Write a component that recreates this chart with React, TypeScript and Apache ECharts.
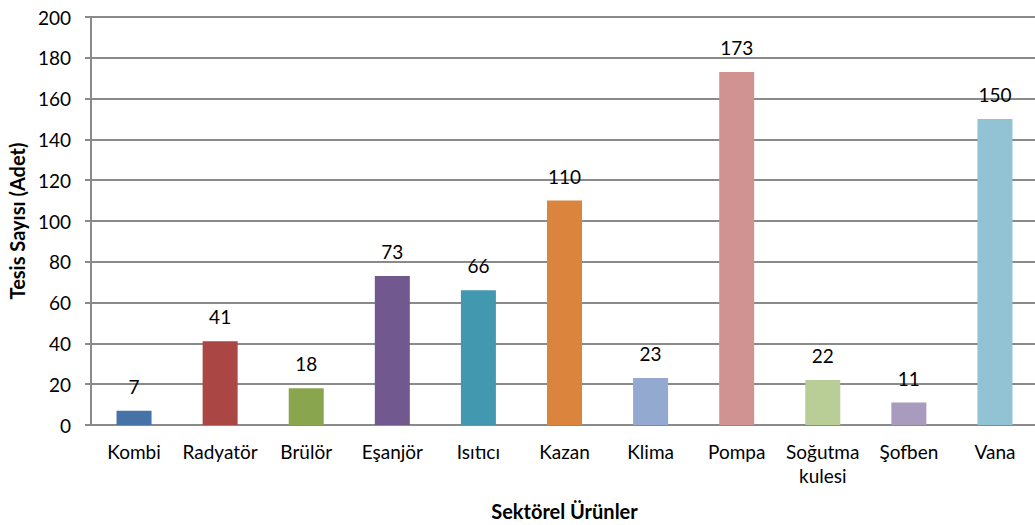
import React, { useEffect, useRef } from "react";
import * as echarts from "echarts";

const categories = ["Kombi", "Radyatör", "Brülör", "Eşanjör", "Isıtıcı", "Kazan", "Klima", "Pompa", "Soğutma kulesi", "Şofben", "Vana"];
const values = [7, 41, 18, 73, 66, 110, 23, 173, 22, 11, 150];
const colors = ["#4572A7", "#AA4643", "#89A54E", "#71588F", "#4198AF", "#DB843D", "#93A9CF", "#D19392", "#B9CD96", "#A99BBD", "#92C3D5"];
const yTitle = "Tesis Sayısı (Adet)";
const xTitle = "Sektörel Ürünler";

const FONT = "Lato";

export default function App() {
  const ref = useRef<HTMLDivElement>(null);
  useEffect(() => {
    if (!ref.current) return;
    const chart = echarts.init(ref.current, undefined, { renderer: "svg" });
    chart.setOption({
      animation: false,
      textStyle: { fontFamily: FONT },
      grid: { left: 91, right: -3, top: 17, bottom: 100, containLabel: false, outerBoundsMode: "none" },
      xAxis: {
        type: "category",
        data: categories,
        name: xTitle,
        nameLocation: "middle",
        nameGap: 76,
        nameTextStyle: { fontFamily: FONT, fontWeight: "bold", fontSize: 20, color: "#000" },
        axisLine: { lineStyle: { color: "#8a8a8a", width: 2 } },
        axisTick: { show: false },
        axisLabel: {
          interval: 0,
          margin: 14,
          fontFamily: FONT,
          fontSize: 19,
          color: "#000",
          lineHeight: 24,
          formatter: (v: string) => v.replace(" ", "\n"),
          verticalAlign: "top",
        },
      },
      yAxis: {
        type: "value",
        min: 0,
        max: 200,
        interval: 20,
        name: yTitle,
        nameLocation: "middle",
        nameGap: 63,
        nameTextStyle: { fontFamily: FONT, fontWeight: "bold", fontSize: 20, color: "#000" },
        axisLine: { show: true, lineStyle: { color: "#8a8a8a", width: 2 } },
        axisTick: { show: true, length: 6, lineStyle: { color: "#8a8a8a", width: 2 } },
        splitLine: { lineStyle: { color: "#8a8a8a", width: 2 } },
        axisLabel: { margin: 20, fontFamily: FONT, fontSize: 19, color: "#000" },
      },
      series: [
        {
          type: "bar",
          data: values.map((v, i) => ({ value: v, itemStyle: { color: colors[i] } })),
          barWidth: 35,
          label: {
            show: true,
            position: "top",
            distance: 15,
            fontFamily: FONT,
            fontSize: 19,
            color: "#000",
          },
        },
      ],
    });
    return () => chart.dispose();
  }, []);
  return <div ref={ref} style={{ position: "absolute", left: 0, top: 0, width: 1035, height: 525 }} />;
}
